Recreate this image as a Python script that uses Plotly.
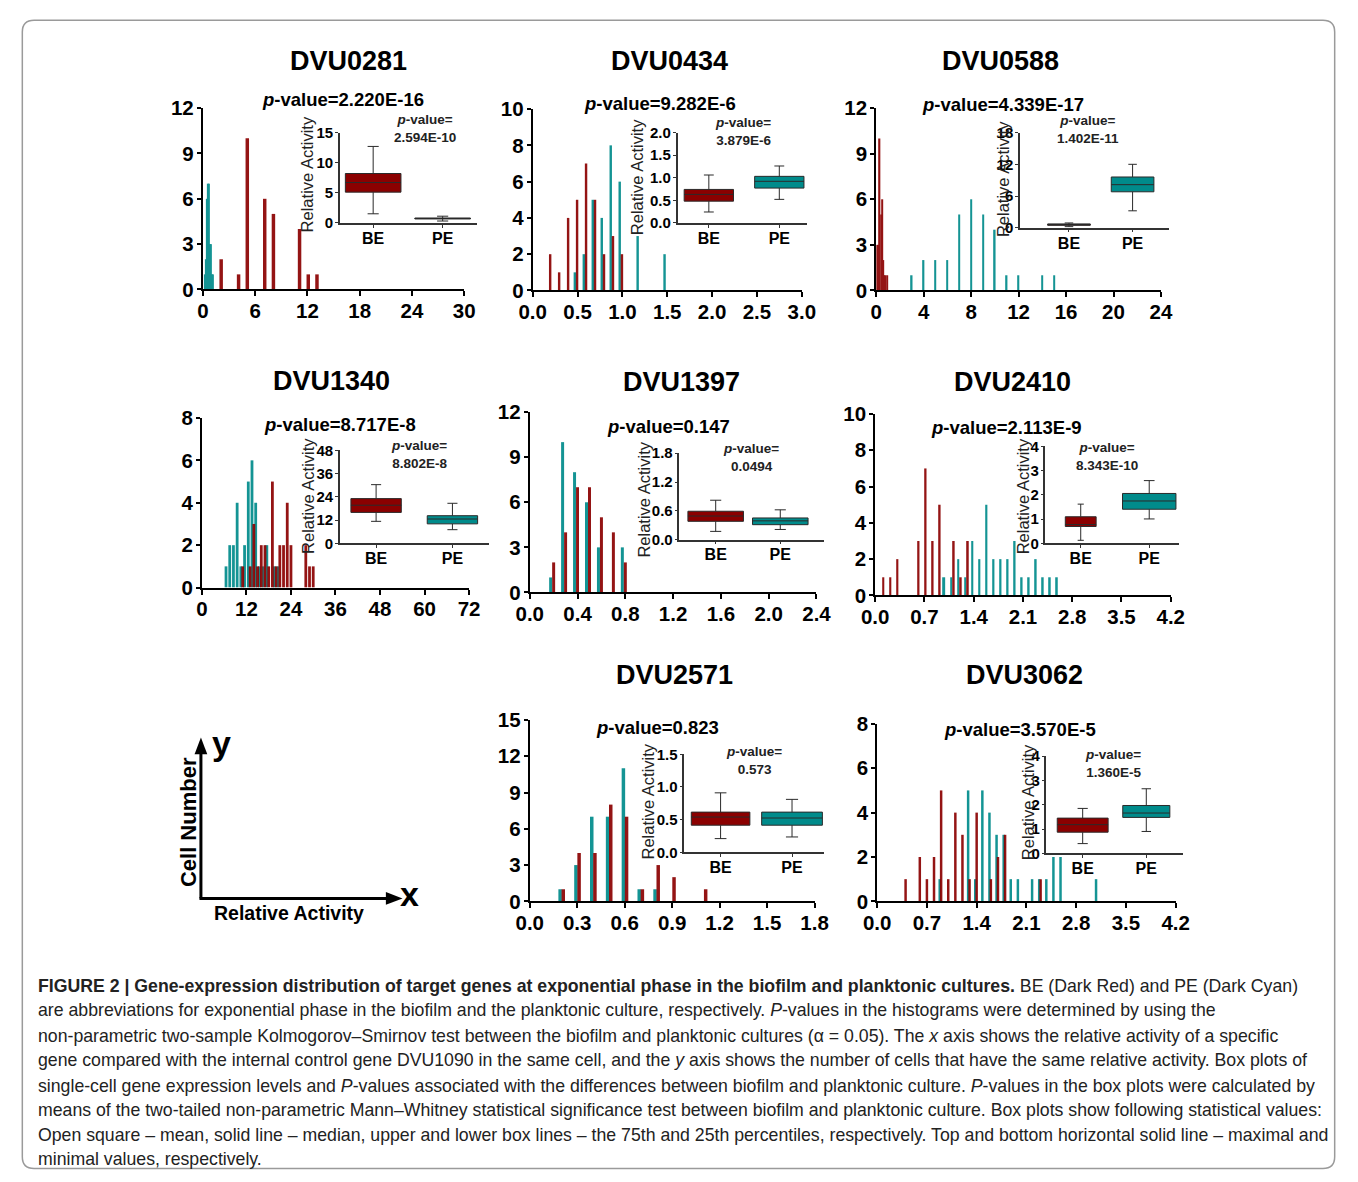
import plotly.graph_objects as go

W, H = 1358, 1182
RED = '#8B0000'
TEAL = '#008B8B'
FONT = 'Arial, "Liberation Sans", Helvetica, sans-serif'
CAPFONT = 'Arial, "Liberation Sans", sans-serif'

# ---------------- data ----------------
genes = ["DVU0281", "DVU0434", "DVU0588", "DVU1340", "DVU1397", "DVU2410", "DVU2571", "DVU3062"]
ks_pvalues = ["2.220E-16", "9.282E-6", "4.339E-17", "8.717E-8", "0.147", "2.113E-9", "0.823", "3.570E-5"]
mw_pvalues = ["2.594E-10", "3.879E-6", "1.402E-11", "8.802E-8", "0.0494", "8.343E-10", "0.573", "1.360E-5"]
box_labels = ["BE", "PE"]

# histogram bins (relative activity) and cell counts
dvu0281_be_x = [2, 4, 5, 7, 8, 11, 12, 13]
dvu0281_be_n = [2, 1, 10, 6, 5, 4, 1, 1]
dvu0281_pe_x = [0.2, 0.3, 0.4, 0.5, 0.6, 0.7, 0.8, 0.9, 1.0, 1.1]
dvu0281_pe_n = [1, 2, 2, 6, 7, 7, 3, 3, 1, 1]

dvu0434_be_x = [0.2, 0.3, 0.4, 0.5, 0.6, 0.7, 0.8, 0.9, 1.0]
dvu0434_be_n = [2, 1, 4, 5, 7, 5, 2, 3, 2]
dvu0434_pe_x = [0.5, 0.6, 0.7, 0.8, 0.9, 1.0, 1.2, 1.5]
dvu0434_pe_n = [1, 2, 5, 4, 8, 6, 3, 2]

dvu0588_be_x = [0.1, 0.2, 0.3, 0.4, 0.5, 0.6, 0.7, 0.8, 0.9]
dvu0588_be_n = [3, 3, 10, 5, 6, 2, 1, 1, 1]
dvu0588_pe_x = [3, 4, 5, 6, 7, 8, 9, 10, 11, 12, 14, 15]
dvu0588_pe_n = [1, 2, 2, 2, 5, 6, 5, 4, 1, 1, 1, 1]

dvu1340_be_x = [11, 13, 14, 15, 16, 17, 18, 19, 20, 21, 22, 23, 24, 28, 29, 30]
dvu1340_be_n = [1, 1, 3, 1, 2, 2, 1, 5, 1, 2, 2, 4, 2, 2, 1, 1]
dvu1340_pe_x = [6, 7, 8, 9, 10, 11, 12, 13, 14, 15, 16, 17, 19, 20]
dvu1340_pe_n = [1, 2, 2, 4, 1, 2, 5, 6, 4, 1, 1, 2, 1, 1]

dvu1397_be_x = [0.2, 0.3, 0.4, 0.5, 0.6, 0.7, 0.8]
dvu1397_be_n = [2, 4, 7, 7, 5, 4, 2]
dvu1397_pe_x = [0.2, 0.3, 0.4, 0.5, 0.6, 0.8]
dvu1397_pe_n = [1, 10, 8, 6, 3, 3]

dvu2410_be_x = [0.1, 0.2, 0.3, 0.6, 0.7, 0.8, 0.9, 1.1, 1.2, 1.3]
dvu2410_be_n = [1, 1, 2, 3, 7, 3, 5, 3, 1, 3]
dvu2410_pe_x = [1.0, 1.1, 1.2, 1.3, 1.4, 1.5, 1.6, 1.7, 1.8, 1.9, 2.0, 2.1, 2.2, 2.3, 2.4, 2.5, 2.6]
dvu2410_pe_n = [1, 1, 2, 1, 3, 2, 5, 2, 2, 2, 3, 1, 1, 2, 1, 1, 1]

dvu2571_be_x = [0.2, 0.3, 0.4, 0.5, 0.6, 0.7, 0.8, 0.9, 1.1]
dvu2571_be_n = [1, 4, 4, 8, 7, 1, 3, 2, 1]
dvu2571_pe_x = [0.2, 0.3, 0.4, 0.5, 0.6, 0.7, 0.8]
dvu2571_pe_n = [1, 3, 7, 7, 11, 1, 1]

dvu3062_be_x = [0.4, 0.6, 0.7, 0.8, 0.9, 1.0, 1.1, 1.2, 1.3, 1.4, 1.6, 1.7, 1.8, 2.3]
dvu3062_be_n = [1, 2, 1, 2, 5, 1, 4, 3, 1, 4, 1, 2, 3, 1]
dvu3062_pe_x = [0.9, 1.3, 1.4, 1.5, 1.6, 1.7, 1.8, 1.9, 2.0, 2.2, 2.3, 2.4, 2.5, 2.6, 3.1]
dvu3062_pe_n = [1, 5, 1, 5, 4, 3, 3, 1, 1, 1, 1, 1, 2, 2, 1]

# box statistics: [min, q1, median, q3, max]
dvu0281_be_box = [1.5, 5.1, 6.7, 8.2, 12.7]
dvu0281_pe_box = [0.3, 0.64, 0.72, 0.8, 1.1]
dvu0434_be_box = [0.24, 0.48, 0.63, 0.74, 1.06]
dvu0434_pe_box = [0.52, 0.77, 0.92, 1.03, 1.26]
dvu0588_be_box = [0.2, 0.45, 0.6, 0.72, 0.9]
dvu0588_pe_box = [3.2, 6.8, 8.15, 9.6, 12.0]
dvu1340_be_box = [11.4, 16.0, 19.7, 23.1, 30.3]
dvu1340_pe_box = [7.1, 10.1, 12.6, 14.3, 20.7]
dvu1397_be_box = [0.17, 0.38, 0.49, 0.59, 0.82]
dvu1397_pe_box = [0.21, 0.31, 0.39, 0.45, 0.62]
dvu2410_be_box = [0.13, 0.7, 0.78, 1.1, 1.62]
dvu2410_pe_box = [1.01, 1.41, 1.75, 2.06, 2.59]
dvu2571_be_box = [0.21, 0.415, 0.54, 0.615, 0.91]
dvu2571_pe_box = [0.235, 0.415, 0.525, 0.615, 0.81]
dvu3062_be_box = [0.4, 0.87, 1.18, 1.45, 1.85]
dvu3062_pe_box = [0.9, 1.48, 1.66, 1.97, 2.66]

hist_be_x = [dvu0281_be_x, dvu0434_be_x, dvu0588_be_x, dvu1340_be_x, dvu1397_be_x, dvu2410_be_x, dvu2571_be_x, dvu3062_be_x]
hist_be_n = [dvu0281_be_n, dvu0434_be_n, dvu0588_be_n, dvu1340_be_n, dvu1397_be_n, dvu2410_be_n, dvu2571_be_n, dvu3062_be_n]
hist_pe_x = [dvu0281_pe_x, dvu0434_pe_x, dvu0588_pe_x, dvu1340_pe_x, dvu1397_pe_x, dvu2410_pe_x, dvu2571_pe_x, dvu3062_pe_x]
hist_pe_n = [dvu0281_pe_n, dvu0434_pe_n, dvu0588_pe_n, dvu1340_pe_n, dvu1397_pe_n, dvu2410_pe_n, dvu2571_pe_n, dvu3062_pe_n]
box_be = [dvu0281_be_box, dvu0434_be_box, dvu0588_be_box, dvu1340_be_box, dvu1397_be_box, dvu2410_be_box, dvu2571_be_box, dvu3062_be_box]
box_pe = [dvu0281_pe_box, dvu0434_pe_box, dvu0588_pe_box, dvu1340_pe_box, dvu1397_pe_box, dvu2410_pe_box, dvu2571_pe_box, dvu3062_pe_box]

caption_lines = [
    "<b>FIGURE 2 | Gene-expression distribution of target genes at exponential phase in the biofilm and planktonic cultures.</b> BE (Dark Red) and PE (Dark Cyan)",
    "are abbreviations for exponential phase in the biofilm and the planktonic culture, respectively. <i>P</i>-values in the histograms were determined by using the",
    "non-parametric two-sample Kolmogorov–Smirnov test between the biofilm and planktonic cultures (α = 0.05). The <i>x</i> axis shows the relative activity of a specific",
    "gene compared with the internal control gene DVU1090 in the same cell, and the <i>y</i> axis shows the number of cells that have the same relative activity. Box plots of",
    "single-cell gene expression levels and <i>P</i>-values associated with the differences between biofilm and planktonic culture. <i>P</i>-values in the box plots were calculated by",
    "means of the two-tailed non-parametric Mann–Whitney statistical significance test between biofilm and planktonic culture. Box plots show following statistical values:",
    "Open square – mean, solid line – median, upper and lower box lines – the 75th and 25th percentiles, respectively. Top and bottom horizontal solid line – maximal and",
    "minimal values, respectively.",
]

# ---------------- layout (pixel positions) ----------------
panels = [
    dict(main=(193, 460, 98, 283), xmax=30, xdt=6, xfmt='d', ymax=12, ydt=3,
         ins=(333, 473, 123, 215), be=367, pe=438, imax=15, idt=5, ifmt='d', bw=(0.8, 0.8),
         barw=(0.4, 0.1), shift=(0.1, 0.0), title=(342, 50), pv=(336, 89), ipv=(420, 119), ra=(299, 166)),
    dict(main=(530, 805, 99, 284), xmax=3, xdt=0.5, xfmt='.1f', ymax=10, ydt=2,
         ins=(678, 810, 123, 215), be=710, pe=782, imax=2, idt=0.5, ifmt='.1f', bw=(0.7, 0.7),
         barw=(0.027, 0.027), shift=(-0.005, -0.03), title=(670, 50), pv=(660, 93), ipv=(745, 122), ra=(636, 168)),
    dict(main=(881, 1172, 98, 284), xmax=24, xdt=4, xfmt='d', ymax=12, ydt=3,
         ins=(1028, 1180, 123, 220), be=1078, pe=1143, imax=18, idt=6, ifmt='d', bw=(0.67, 0.67),
         barw=(0.1, 0.12), shift=(0, 0), title=(1008, 50), pv=(1011, 94), ipv=(1097, 120), ra=(1010, 170)),
    dict(main=(192, 465, 414, 587), xmax=72, xdt=12, xfmt='d', ymax=8, ydt=2,
         ins=(333, 485, 447, 542), be=370, pe=448, imax=48, idt=12, ifmt='d', bw=(0.66, 0.66),
         barw=(0.75, 0.75), shift=(0, 0.5), title=(324, 376), pv=(333, 421), ipv=(414, 451), ra=(301, 494)),
    dict(main=(527, 820, 408, 592), xmax=2.4, xdt=0.4, xfmt='.1f', ymax=12, ydt=3,
         ins=(680, 828, 450, 538), be=717, pe=783, imax=1.8, idt=0.6, ifmt='.1f', bw=(0.86, 0.86),
         barw=(0.025, 0.025), shift=(0.0, -0.025), title=(682, 377), pv=(669, 423), ipv=(753, 454), ra=(644, 497)),
    dict(main=(880, 1182, 410, 595), xmax=4.2, xdt=0.7, xfmt='.1f', ymax=10, ydt=2,
         ins=(1054, 1190, 443, 542), be=1090, pe=1160, imax=4, idt=1, ifmt='d', bw=(0.45, 0.78),
         barw=(0.028, 0.028), shift=(0.015, -0.02), title=(1020, 377), pv=(1014, 424), ipv=(1117, 453), ra=(1031, 494)),
    dict(main=(527, 818, 722, 907), xmax=1.8, xdt=0.3, xfmt='.1f', ymax=15, ydt=3,
         ins=(685, 828, 757, 857), be=722, pe=795, imax=1.5, idt=0.5, ifmt='.1f', bw=(0.82, 0.85),
         barw=(0.022, 0.022), shift=(0.012, -0.008), title=(675, 676), pv=(658, 730), ipv=(756, 763), ra=(648, 805)),
    dict(main=(882, 1187, 726, 907), xmax=4.2, xdt=0.7, xfmt='.1f', ymax=8, ydt=2,
         ins=(1055, 1195, 759, 858), be=1092, pe=1157, imax=4, idt=1, ifmt='d', bw=(0.8, 0.74),
         barw=(0.035, 0.035), shift=(0.0, -0.02), title=(1033, 676), pv=(1028, 732), ipv=(1123, 766), ra=(1036, 806)),
]


def fx(x):
    return x / W


def fy(y):
    return 1 - y / H


def ann(x, y, text, size, bold=False, color='black', angle=0, xanchor='center', family=FONT, align='center'):
    return dict(x=fx(x), y=fy(y), xref='paper', yref='paper', text=text, showarrow=False,
                xanchor=xanchor, yanchor='middle', textangle=angle, align=align,
                font=dict(family=family, size=size, color=color, weight='bold' if bold else 'normal'))


fig = go.Figure()
lay = {}
annotations = []
shapes = []

for i, gene in enumerate(genes):
    P = panels[i]
    nm, ni = 2 * i + 1, 2 * i + 2
    sm = '' if nm == 1 else str(nm)
    si = str(ni)
    wr, wt = P['barw']
    sr, st = P['shift']

    fig.add_trace(go.Bar(x=hist_pe_x[i], y=hist_pe_n[i], width=wt, offset=st - wt / 2,
                         marker=dict(color=TEAL, line=dict(width=0)), opacity=0.92,
                         xaxis='x' + sm, yaxis='y' + sm, showlegend=False, hoverinfo='skip'))
    fig.add_trace(go.Bar(x=hist_be_x[i], y=hist_be_n[i], width=wr, offset=sr - wr / 2,
                         marker=dict(color=RED, line=dict(width=0)), opacity=0.92,
                         xaxis='x' + sm, yaxis='y' + sm, showlegend=False, hoverinfo='skip'))

    for lab, st_, col, bwid in ((box_labels[0], box_be[i], RED, P['bw'][0]),
                                (box_labels[1], box_pe[i], TEAL, P['bw'][1])):
        fig.add_trace(go.Box(x=[lab], lowerfence=[st_[0]], q1=[st_[1]], median=[st_[2]],
                             q3=[st_[3]], upperfence=[st_[4]], fillcolor=col,
                             line=dict(color='#2a2a2a', width=1), width=bwid, whiskerwidth=0.2,
                             boxpoints=False, xaxis='x' + si, yaxis='y' + si,
                             showlegend=False, hoverinfo='skip'))

    x0, x1, y0, y1 = P['main']
    lay['xaxis' + sm] = dict(domain=[fx(x0), fx(x1)], range=[0, P['xmax']], tick0=0, dtick=P['xdt'],
                             tickformat=P['xfmt'], anchor='y' + sm, showline=True, linecolor='black',
                             linewidth=2, ticks='outside', ticklen=5, tickwidth=2, tickcolor='black',
                             showgrid=False, zeroline=False, ticklabelstandoff=-3,
                             tickfont=dict(family=FONT, size=20.5, color='black', weight='bold'))
    lay['yaxis' + sm] = dict(domain=[fy(y1), fy(y0)], range=[0, P['ymax']], tick0=0, dtick=P['ydt'],
                             anchor='x' + sm, showline=True, linecolor='black', linewidth=2,
                             ticks='outside', ticklen=4, tickwidth=2, tickcolor='black',
                             showgrid=False, zeroline=False, ticklabelstandoff=-1,
                             tickfont=dict(family=FONT, size=20.5, color='black', weight='bold'))

    ix0, ix1, iy0, iy1 = P['ins']
    s = P['pe'] - P['be']
    lo = -(P['be'] - ix0) / s
    hi = 1 + (ix1 - P['pe']) / s
    lay['xaxis' + si] = dict(domain=[fx(ix0), fx(ix1)], range=[lo, hi], type='category',
                             categoryorder='array', categoryarray=box_labels, anchor='y' + si,
                             showline=True, linecolor='#333', linewidth=1.5, ticks='outside',
                             ticklen=3, tickcolor='#333', showgrid=False, zeroline=False,
                             ticklabelstandoff=-3,
                             tickfont=dict(family=FONT, size=16, color='black', weight='bold'))
    lay['yaxis' + si] = dict(domain=[fy(iy1), fy(iy0)], range=[0, P['imax']], tick0=0, dtick=P['idt'],
                             tickformat=P['ifmt'], anchor='x' + si, showline=True, linecolor='#333',
                             linewidth=1.5, ticks='outside', ticklen=3, tickcolor='#333',
                             showgrid=False, zeroline=False, ticklabelstandoff=-1,
                             tickfont=dict(family=FONT, size=15, color='black', weight='bold'))

    annotations.append(ann(*P['title'], gene, 27, bold=True))
    annotations.append(ann(*P['pv'], '<i>p</i>-value=' + ks_pvalues[i], 18.5, bold=True))
    annotations.append(ann(*P['ipv'], '<i>p</i>-value=<br>' + mw_pvalues[i], 13.5, bold=True, color='#222'))
    annotations.append(ann(*P['ra'], 'Relative Activity', 16.5, angle=-90, color='#222'))

# axis legend diagram
annotations.append(ann(179, 826, 'Cell Number', 22, bold=True, angle=-90))
annotations.append(ann(281, 919, 'Relative Activity', 19.5, bold=True))
annotations.append(ann(212, 746, 'y', 34, bold=True))
annotations.append(ann(404, 899, 'x', 34, bold=True))
shapes.append(dict(type='line', xref='paper', yref='paper', x0=fx(191), y0=fy(904), x1=fx(191), y1=fy(754),
                   line=dict(color='black', width=3)))
shapes.append(dict(type='line', xref='paper', yref='paper', x0=fx(189.5), y0=fy(904), x1=fx(382), y1=fy(904),
                   line=dict(color='black', width=3)))
shapes.append(dict(type='path', xref='paper', yref='paper', fillcolor='black', line=dict(width=0),
                   path=f'M {fx(191)} {fy(740)} L {fx(184.5)} {fy(757)} L {fx(197.5)} {fy(757)} Z'))
shapes.append(dict(type='path', xref='paper', yref='paper', fillcolor='black', line=dict(width=0),
                   path=f'M {fx(397)} {fy(904)} L {fx(380)} {fy(897.5)} L {fx(380)} {fy(910.5)} Z'))

# caption
cap_y = [993, 1018, 1044, 1069, 1095, 1120, 1145, 1170]
for t, yy in zip(caption_lines, cap_y):
    annotations.append(ann(22, yy, t, 17.7, xanchor='left', family=CAPFONT, color='#222', align='left'))

# rounded frame
L, T, R, B, r = 8.5, 8.5, 1349.5, 1179.5, 12
shapes.append(dict(type='path', xref='paper', yref='paper', line=dict(color='#9a9a9a', width=1.5),
                   path=(f'M {fx(L + r)} {fy(T)} L {fx(R - r)} {fy(T)} Q {fx(R)} {fy(T)} {fx(R)} {fy(T + r)} '
                         f'L {fx(R)} {fy(B - r)} Q {fx(R)} {fy(B)} {fx(R - r)} {fy(B)} '
                         f'L {fx(L + r)} {fy(B)} Q {fx(L)} {fy(B)} {fx(L)} {fy(B - r)} '
                         f'L {fx(L)} {fy(T + r)} Q {fx(L)} {fy(T)} {fx(L + r)} {fy(T)} Z')))

fig.update_layout(width=W, height=H, margin=dict(l=0, r=0, t=0, b=0), autosize=False,
                  paper_bgcolor='white', plot_bgcolor='rgba(0,0,0,0)', barmode='overlay',
                  boxmode='overlay', showlegend=False, annotations=annotations, shapes=shapes,
                  font=dict(family=FONT), **lay)

fig.write_html("out.html")
